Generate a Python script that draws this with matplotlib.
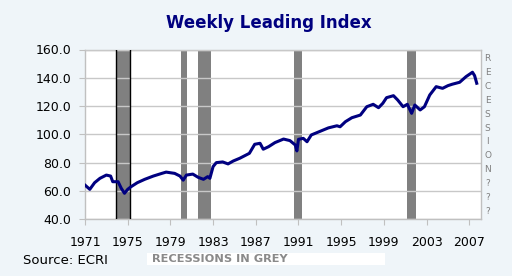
"""
Weekly Leading Index (ECRI) with recession shading
"""
import matplotlib.pyplot as plt
from matplotlib.patches import Rectangle

# values
years = [1971.0, 1971.45, 1971.9, 1972.4, 1973.0, 1973.4, 1973.6, 1974.1,
         1974.4, 1974.7, 1975.0, 1975.3, 1975.9, 1976.6, 1977.4, 1978.2,
         1978.6, 1979.4, 1979.9, 1980.2, 1980.5, 1981.1, 1981.6, 1982.1,
         1982.5, 1982.7, 1983.0, 1983.3, 1983.9, 1984.4, 1984.9, 1985.5,
         1986.4, 1986.9, 1987.4, 1987.7, 1988.2, 1988.8, 1989.6, 1990.2,
         1990.7, 1990.85, 1991.0, 1991.45, 1991.8, 1992.2, 1993.0, 1993.8,
         1994.6, 1994.9, 1995.4, 1996.0, 1996.8, 1997.4, 1998.0, 1998.5,
         1998.9, 1999.25, 1999.9, 2000.3, 2000.8, 2001.2, 2001.6, 2001.9,
         2002.4, 2002.8, 2003.3, 2003.9, 2004.5, 2005.0, 2005.4, 2006.1,
         2006.7, 2007.3, 2007.5, 2007.7]
wli = [64.0, 61.0, 65.7, 68.8, 71.1, 70.4, 66.4, 66.4,
       61.7, 58.2, 61.0, 62.8, 65.7, 68.1, 70.4, 72.3,
       73.2, 72.3, 70.4, 67.5, 71.1, 71.8, 69.5, 68.1,
       70.0, 68.8, 77.1, 79.9, 80.4, 79.0, 81.1, 83.0,
       86.5, 92.9, 93.6, 89.4, 91.2, 94.1, 96.6, 95.5,
       92.4, 88.2, 96.4, 97.1, 94.7, 99.5, 102.0, 104.5,
       106.0, 105.3, 108.9, 111.7, 113.6, 119.5, 121.2, 118.8,
       121.9, 125.9, 127.3, 124.2, 119.5, 121.2, 114.8, 120.7,
       117.2, 119.5, 127.8, 133.7, 132.5, 134.4, 135.4, 136.8,
       140.8, 143.9, 141.5, 136.1]

rec_start = [1973.94, 1979.97, 1981.6, 1990.55, 2001.2]
rec_end = [1975.19, 1980.55, 1982.85, 1991.3, 2002.05]

xticks = [1971, 1975, 1979, 1983, 1987, 1991, 1995, 1999, 2003, 2007]
yticks = [40, 60, 80, 100, 120, 140, 160]
side_letters = list("RECESSION???")

bg = '#eff5f9'
navy = '#000080'

fig = plt.figure(figsize=(5.12, 2.76), dpi=100, facecolor=bg)
ax = fig.add_axes([85/512, 1 - 219/276, 396/512, 169.5/276])
ax.set_facecolor('white')

for s, e in zip(rec_start, rec_end):
    ax.axvspan(s, e, color='#808080', lw=0, zorder=1)
# the 1974 bar has black edges
ax.axvline(rec_start[0], color='black', lw=1, zorder=3)
ax.axvline(rec_end[0], color='black', lw=1, zorder=3)

ax.plot(years, wli, color=navy, lw=2.2, zorder=4)

ax.set_xlim(1971, 2008.1)
ax.set_ylim(40, 160)
ax.set_xticks(xticks)
ax.set_xticklabels([str(y) for y in xticks])
ax.set_yticks(yticks)
ax.set_yticklabels(['%.1f' % v for v in yticks])
ax.yaxis.grid(True, color='#c8c8c8', lw=1, zorder=2)
ax.set_axisbelow(False)
ax.tick_params(axis='both', colors='#c0c0c0', labelcolor='black',
               labelsize=9, length=4)
ax.tick_params(axis='x', pad=8)
ax.tick_params(axis='y', pad=6)
for sp in ax.spines.values():
    sp.set_color('#c0c0c0')
    sp.set_linewidth(1)

fig.text(268.7/512, 1 - 23.3/276, 'Weekly Leading Index', ha='center',
         va='center', fontsize=12, fontweight='bold', color=navy)

for i, ch in enumerate(side_letters):
    fig.text(487.7/512, 1 - (58.3 + i*13.95)/276, ch, ha='center',
             va='center', fontsize=6.5, color='#808080')

fig.text(23.3/512, 1 - 260/276, 'Source: ECRI', ha='left', va='center',
         fontsize=9.5, color='black')
fig.patches.append(Rectangle((147/512, 1 - 265/276), 238/512, 12/276,
                             transform=fig.transFigure, facecolor='white',
                             edgecolor='none'))
fig.text(151.5/512, 1 - 259/276, 'RECESSIONS IN GREY', ha='left',
         va='center', fontsize=8.2, fontweight='bold', color='#8a8a8a')

fig.savefig('out.png', dpi=100, facecolor=bg)
